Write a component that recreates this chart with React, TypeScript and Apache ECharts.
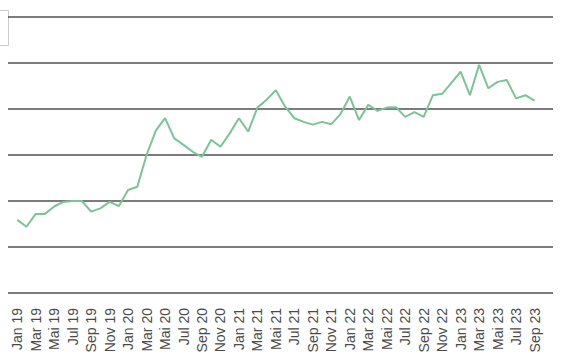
import React, { useEffect, useRef } from "react";
import * as echarts from "echarts";

const months: string[] = [
  "Jan 19", "Feb 19", "Mar 19", "Apr 19", "Mai 19", "Jun 19", "Jul 19", "Aug 19", "Sep 19", "Okt 19", "Nov 19", "Dez 19",
  "Jan 20", "Feb 20", "Mar 20", "Apr 20", "Mai 20", "Jun 20", "Jul 20", "Aug 20", "Sep 20", "Okt 20", "Nov 20", "Dez 20",
  "Jan 21", "Feb 21", "Mar 21", "Apr 21", "Mai 21", "Jun 21", "Jul 21", "Aug 21", "Sep 21", "Okt 21", "Nov 21", "Dez 21",
  "Jan 22", "Feb 22", "Mar 22", "Apr 22", "Mai 22", "Jun 22", "Jul 22", "Aug 22", "Sep 22", "Okt 22", "Nov 22", "Dez 22",
  "Jan 23", "Feb 23", "Mar 23", "Apr 23", "Mai 23", "Jun 23", "Jul 23", "Aug 23", "Sep 23",
];

const values: number[] = [
  15.9, 14.4, 17.2, 17.2, 18.8, 19.8, 20.0, 20.0, 17.7, 18.4, 19.8, 18.9,
  22.4, 23.1, 30.0, 35.3, 38.0, 33.6, 32.2, 30.7, 29.6, 33.3, 31.8, 34.7,
  38.0, 35.1, 40.3, 42.0, 44.1, 40.5, 38.0, 37.2, 36.6, 37.2, 36.7, 38.9,
  42.7, 37.6, 40.9, 39.6, 40.3, 40.4, 38.3, 39.3, 38.3, 43.0, 43.3, 45.7,
  48.1, 43.0, 49.6, 44.5, 45.9, 46.3, 42.3, 43.0, 41.8,
];

// empty slots before and after the data so the grid lines run past the line
const leadingSlots: string[] = [""];
const trailingSlots: string[] = ["", ""];

const yMin = 0;
const yMax = 60;
const yStep = 10;

export default function App() {
  const ref = useRef<HTMLDivElement>(null);

  useEffect(() => {
    document.body.style.margin = "0";
    if (!ref.current) return;
    const chart = echarts.init(ref.current, null, { renderer: "svg" });
    const cats = [...leadingSlots, ...months, ...trailingSlots];
    const data = [
      ...leadingSlots.map(() => null),
      ...values,
      ...trailingSlots.map(() => null),
    ];
    const first = leadingSlots.length;
    const last = first + months.length - 1;
    chart.setOption({
      animation: false,
      backgroundColor: "#ffffff",
      grid: { left: 8, right: 17, top: 17, bottom: 70, containLabel: false },
      xAxis: {
        type: "category",
        data: cats,
        boundaryGap: false,
        axisLine: { show: false },
        axisTick: { show: false },
        splitLine: { show: false },
        axisLabel: {
          rotate: 90,
          margin: 15,
          fontFamily: "Liberation Sans, Arial, sans-serif",
          fontSize: 14,
          color: "#4a4a4a",
          interval: (idx: number) => idx >= first && idx <= last && (idx - first) % 2 === 0,
        },
      },
      yAxis: {
        type: "value",
        min: yMin,
        max: yMax,
        interval: yStep,
        axisLine: { show: false },
        axisTick: { show: false },
        axisLabel: { show: false },
        splitLine: { show: true, lineStyle: { color: "#505050", width: 1.5 } },
      },
      series: [
        {
          type: "line",
          data,
          showSymbol: false,
          symbol: "none",
          connectNulls: false,
          lineStyle: { color: "#7cc398", width: 2 },
        },
      ],
      graphic: [
        {
          type: "rect",
          left: -10,
          top: 8,
          shape: { x: 0, y: 0, width: 16, height: 35 },
          style: { fill: "none", stroke: "#cccccc", lineWidth: 1 },
        },
      ],
    });
    return () => chart.dispose();
  }, []);

  return <div ref={ref} style={{ width: 570, height: 363 }} />;
}
